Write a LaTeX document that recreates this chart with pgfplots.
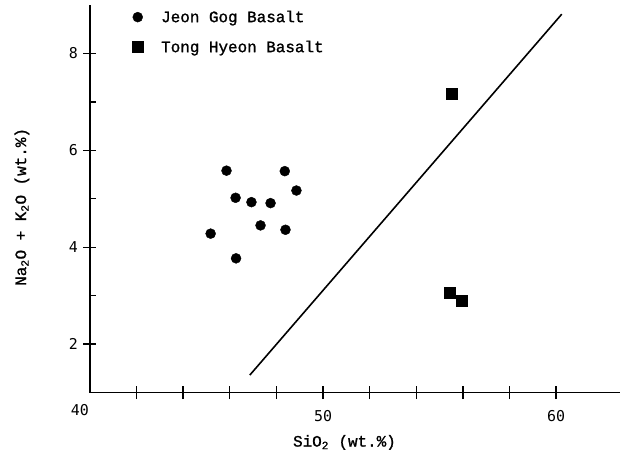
\documentclass[border=0pt]{standalone}
\usepackage{pgfplots}
\pgfplotsset{compat=1.18}
\usepackage{fontspec}
\newfontfamily\tw{Liberation Mono}[RawFeature={embolden=1.2}]
\newfontfamily\tickfont{DejaVu Sans Mono}

\begin{document}
\begin{tikzpicture}
\begin{axis}[
  width=531bp, height=388bp, scale only axis,
  xmin=40, xmax=62.75, ymin=1, ymax=9,
  axis x line*=bottom, axis y line*=left,
  axis line style={line width=1.5bp},
  tick style={line width=1.3bp, black},
  tick align=center, major tick length=13bp,
  xtick={42,44,...,60}, xticklabels={,,,,50,,,,,60},
  ytick={2,4,6,8},
  extra y ticks={3,5,7}, extra y tick labels={},
  extra y tick style={tick align=inside, major tick length=6bp},
  extra x ticks={40}, extra x tick labels={\hspace*{-20bp}40},
  extra x tick style={major tick length=0pt},
  /pgf/number format/assume math mode=true,
  tick label style={font=\tickfont\fontsize{15}{15}\selectfont},
  xticklabel style={yshift=-8bp},
  yticklabel style={xshift=-2bp},
  xlabel={SiO\textsubscript{2} (wt.\%)},
  ylabel={Na\textsubscript{2}O + K\textsubscript{2}O (wt.\%)},
  every axis x label/.style={at={(axis description cs:0.48,0)}, anchor=center, yshift=-50bp,
    font=\tw\fontsize{16}{16}\selectfont},
  every axis y label/.style={at={([xshift=-68bp]axis description cs:0,0.479)}, anchor=center, rotate=90,
    font=\tw\fontsize{16}{16}\selectfont},
  clip=false,
  legend style={draw=none, fill=none, at={(axis cs:41.68,8.97)}, anchor=north west,
    font=\tw\fontsize{16}{16}\selectfont, row sep=13bp,
    /tikz/every odd column/.append style={column sep=16bp}},
  legend cell align=left,
]
\addplot[only marks, mark=*, mark size=5bp, black] coordinates {
  (45.86,5.58) (48.36,5.57) (48.86,5.17) (46.25,5.02) (46.93,4.93)
  (47.75,4.91) (47.32,4.45) (48.39,4.36) (45.18,4.28) (46.27,3.77)
};
\addlegendentry{Jeon Gog Basalt}
\addplot[only marks, mark=square*, mark size=5.5bp, black] coordinates {
  (55.54,7.16) (55.43,3.07) (55.93,2.89)
};
\addlegendentry{Tong Hyeon Basalt}
\addplot[black, line width=1.6bp, forget plot] coordinates {(46.86,1.36) (60.24,8.81)};
\path ([xshift=-90bp,yshift=-66bp]rel axis cs:0,0) rectangle ([yshift=5bp]rel axis cs:1,1);
\end{axis}
\end{tikzpicture}
\end{document}
